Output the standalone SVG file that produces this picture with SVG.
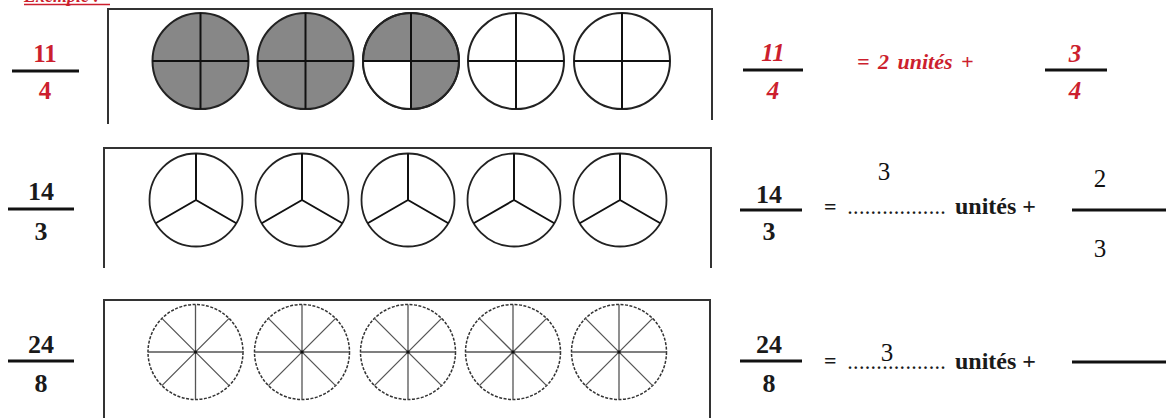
<svg xmlns="http://www.w3.org/2000/svg" xmlns:xlink="http://www.w3.org/1999/xlink" width="1166" height="418" viewBox="0 0 1166 418">
<style>
.red{fill:#cc1f2e}
.blk{fill:#1a1a1a}
.serif{font-family:"Liberation Serif","Times New Roman",serif}
.b{font-weight:bold}
.i{font-style:italic}
.bar{stroke:#111;stroke-width:3}
.box{fill:none;stroke:#333;stroke-width:2}
.hand{font-family:"Liberation Serif",serif;font-size:25px;fill:#111}
</style>
<defs>
<g id="quarter">
<circle r="48" fill="#878787" stroke="#222" stroke-width="2"/>
<line x1="-48" y1="0" x2="48" y2="0" stroke="#111" stroke-width="2"/>
<line x1="0" y1="-48" x2="0" y2="48" stroke="#111" stroke-width="2"/>
</g>
<g id="quarterEmpty">
<circle r="48" fill="#fff" stroke="#222" stroke-width="2"/>
<line x1="-48" y1="0" x2="48" y2="0" stroke="#111" stroke-width="2"/>
<line x1="0" y1="-48" x2="0" y2="48" stroke="#111" stroke-width="2"/>
</g>
<g id="third">
<circle r="46.5" fill="#fff" stroke="#222" stroke-width="1.8"/>
<path d="M0 0V-46.5M0 0L-40.3 23.25M0 0L40.3 23.25" fill="none" stroke="#111" stroke-width="2"/>
</g>
<g id="eighth">
<circle r="47.5" fill="#fff" stroke="#333" stroke-width="1.5" stroke-dasharray="3 1.5"/>
<path d="M-47.5 0H47.5M0 -47.5V47.5M-33.6 -33.6L33.6 33.6M-33.6 33.6L33.6 -33.6" fill="none" stroke="#555" stroke-width="1.3"/>
<circle r="1.6" fill="#111"/>
</g>
</defs>

<g id="example-label">
<text x="24" y="2" class="serif b i red" font-size="18">Exemple :</text>
<line x1="24" y1="4.5" x2="110" y2="4.5" stroke="#cc1f2e" stroke-width="1.5"/>
</g>

<g id="row1">
<g id="row1-left-fraction">
<text x="45" y="62" class="serif b red" font-size="25" text-anchor="middle">11</text>
<line x1="12" y1="71" x2="79" y2="71" class="bar"/>
<text x="45" y="99" class="serif b red" font-size="25" text-anchor="middle">4</text>
</g>
<g id="row1-box">
<path d="M108 124V9H712V120" class="box"/>
<use xlink:href="#quarter" x="200.5" y="61"/>
<use xlink:href="#quarter" x="305.5" y="61"/>
<g transform="translate(411 61)">
<circle r="48" fill="#878787" stroke="#222" stroke-width="2"/>
<path d="M0 0H-48A48 48 0 0 0 0 48Z" fill="#fff"/>
<circle r="48" fill="none" stroke="#222" stroke-width="2"/>
<line x1="-48" y1="0" x2="48" y2="0" stroke="#111" stroke-width="2"/>
<line x1="0" y1="-48" x2="0" y2="48" stroke="#111" stroke-width="2"/>
</g>
<use xlink:href="#quarterEmpty" x="516" y="61"/>
<use xlink:href="#quarterEmpty" x="622" y="61"/>
</g>
<g id="row1-right">
<text x="773" y="61" class="serif b i red" font-size="25" text-anchor="middle">11</text>
<line x1="743" y1="70" x2="803" y2="70" class="bar"/>
<text x="773" y="99" class="serif b i red" font-size="25" text-anchor="middle">4</text>
<text x="857" y="69" class="serif b i red" font-size="22" word-spacing="3">= 2 unités +</text>
<text x="1075" y="62" class="serif b i red" font-size="25" text-anchor="middle">3</text>
<line x1="1045" y1="70" x2="1107" y2="70" class="bar"/>
<text x="1075" y="99" class="serif b i red" font-size="25" text-anchor="middle">4</text>
</g>
</g>

<g id="row2">
<g id="row2-left-fraction">
<text x="41" y="200" class="serif b blk" font-size="26" text-anchor="middle">14</text>
<line x1="8" y1="209" x2="74" y2="209" class="bar"/>
<text x="41" y="240" class="serif b blk" font-size="26" text-anchor="middle">3</text>
</g>
<g id="row2-box">
<path d="M104 268V148H711V268" class="box"/>
<use xlink:href="#third" x="196" y="200"/>
<use xlink:href="#third" x="302" y="200"/>
<use xlink:href="#third" x="408" y="200"/>
<use xlink:href="#third" x="514" y="200"/>
<use xlink:href="#third" x="620" y="200"/>
</g>
<g id="row2-right">
<text x="769" y="203" class="serif b blk" font-size="26" text-anchor="middle">14</text>
<line x1="740" y1="210" x2="802" y2="210" class="bar"/>
<text x="769" y="240" class="serif b blk" font-size="26" text-anchor="middle">3</text>
<text x="824" y="214" class="serif b blk" font-size="22">=</text>
<text x="848" y="214" class="serif b blk" font-size="16" textLength="97" lengthAdjust="spacing">.................</text>
<text x="955" y="214" class="serif b blk" font-size="24">unités +</text>
<text x="884" y="180" class="hand" text-anchor="middle">3</text>
<text x="1100" y="187" class="hand" text-anchor="middle">2</text>
<line x1="1072" y1="210" x2="1166" y2="210" class="bar"/>
<text x="1100" y="257" class="hand" text-anchor="middle">3</text>
</g>
</g>

<g id="row3">
<g id="row3-left-fraction">
<text x="41" y="353" class="serif b blk" font-size="26" text-anchor="middle">24</text>
<line x1="8" y1="361" x2="74" y2="361" class="bar"/>
<text x="41" y="392" class="serif b blk" font-size="26" text-anchor="middle">8</text>
</g>
<g id="row3-box">
<path d="M104 418V300H710V418" class="box"/>
<use xlink:href="#eighth" x="195.5" y="352"/>
<use xlink:href="#eighth" x="302" y="352"/>
<use xlink:href="#eighth" x="408" y="352"/>
<use xlink:href="#eighth" x="513" y="352"/>
<use xlink:href="#eighth" x="619" y="352"/>
</g>
<g id="row3-right">
<text x="769" y="353" class="serif b blk" font-size="26" text-anchor="middle">24</text>
<line x1="740" y1="361" x2="802" y2="361" class="bar"/>
<text x="769" y="392" class="serif b blk" font-size="26" text-anchor="middle">8</text>
<text x="824" y="368" class="serif b blk" font-size="22">=</text>
<text x="848" y="369" class="serif b blk" font-size="16" textLength="97" lengthAdjust="spacing">.................</text>
<text x="955" y="369" class="serif b blk" font-size="24">unités +</text>
<text x="887" y="361" class="hand" text-anchor="middle">3</text>
<line x1="1072" y1="362" x2="1166" y2="362" class="bar"/>
</g>
</g>
</svg>
